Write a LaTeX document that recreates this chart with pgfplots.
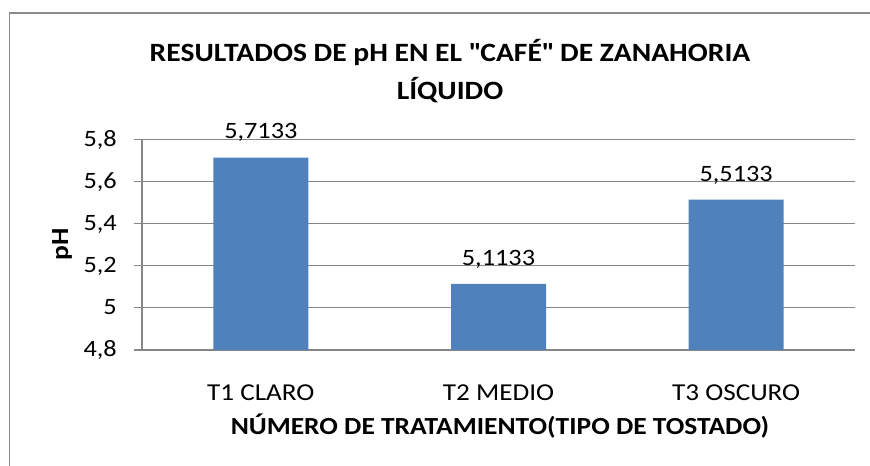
\documentclass[border=0pt]{standalone}
\usepackage{fontspec}
\setmainfont{Carlito}[FakeStretch=1.12]
\usepackage{pgfplots}
\pgfplotsset{compat=1.18}
\definecolor{barblue}{HTML}{4F81BD}
\definecolor{gridgray}{HTML}{868686}
\definecolor{framegray}{HTML}{8C8C8C}

\begin{document}
\begin{tikzpicture}
\useasboundingbox (0,0) rectangle (652.5pt,349.5pt);
\draw[framegray, line width=1pt] (7pt,-2pt) -- (7pt,339.75pt) -- (655pt,339.75pt);

\begin{axis}[
  at={(106.5pt,87pt)}, anchor=south west,
  scale only axis, width=534.75pt, height=158pt,
  ybar, bar width=71.25pt,
  xmin=-0.5, xmax=2.5, ymin=4.8, ymax=5.8,
  xtick=data, xticklabels={T1 CLARO, T2 MEDIO, T3 OSCURO},
  ytick={4.8,5,5.2,5.4,5.6,5.8},
  /pgf/number format/assume math mode=true,
  /pgf/number format/use comma,
  axis x line*=bottom, axis y line*=left,
  axis line style={gridgray, line width=0.9pt, -},
  ymajorgrids, grid style={gridgray, line width=0.9pt},
  xtick style={draw=none},
  ytick style={gridgray, line width=0.9pt},
  tick align=outside, major tick length=6pt,
  ticklabel style={font=\fontsize{17.6}{20}\selectfont},
  yticklabel style={anchor=base east, inner sep=0pt, xshift=-12.75pt, yshift=-5.25pt},
  xticklabel style={anchor=base, inner sep=0pt, yshift=-31.9pt, font=\fontsize{18.2}{20}\selectfont},
  nodes near coords={\pgfmathprintnumber[fixed,precision=4,use comma]{\pgfplotspointmeta}},
  every node near coord/.append style={anchor=base, inner sep=0pt, yshift=14pt,
    font=\fontsize{17.6}{20}\selectfont, text=black},
]
\addplot[fill=barblue, draw=none] coordinates {(0,5.7133) (1,5.1133) (2,5.5133)};
\end{axis}

\node[font=\fontsize{19.8}{24}\selectfont\bfseries] at (337.5pt,310.1pt) {RESULTADOS DE pH EN EL \textquotedbl CAFÉ\textquotedbl{} DE ZANAHORIA};
\node[font=\fontsize{19.8}{24}\selectfont\bfseries] at (337.5pt,282pt) {LÍQUIDO};
\node[font=\fontsize{18.4}{22}\selectfont\bfseries] at (375pt,30pt) {NÚMERO DE TRATAMIENTO(TIPO DE TOSTADO)};
\node[font=\fontsize{18.4}{22}\selectfont\bfseries, rotate=90] at (46.5pt,166pt) {pH};
\end{tikzpicture}
\end{document}
